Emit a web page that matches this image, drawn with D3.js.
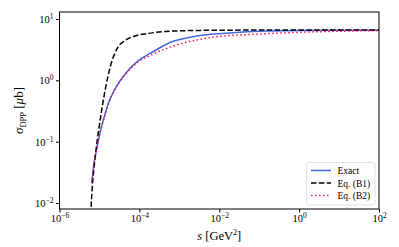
<!DOCTYPE html>
<html>
<head>
<meta charset="utf-8">
<script src="https://cdn.jsdelivr.net/npm/d3@7"></script>
<style>
body { margin: 0; background: #fff; }
text { font-family: "Liberation Serif", "DejaVu Serif", serif; fill: #000; }
</style>
</head>
<body>
<script>
var width = 399,
    height = 247;

// s [GeV^2] and sigma [mub]
var exactS   = [6.40e-6, 7.22e-6, 8.59e-6, 1.03e-5, 1.30e-5, 1.69e-5, 2.45e-5, 4.37e-5, 9.23e-5, 1.85e-4, 5.84e-4, 3.30e-3, 2.21e-2, 0.105, 1.05, 100];
var exactSig = [0.0211, 0.0415, 0.0787, 0.138, 0.243, 0.427, 0.721, 1.26, 2.07, 2.74, 4.14, 5.38, 5.98, 6.30, 6.47, 6.56];

var b1S   = [6.08e-6, 6.22e-6, 6.59e-6, 7.22e-6, 8.20e-6, 9.58e-6, 1.14e-5, 1.42e-5, 1.89e-5, 2.83e-5, 4.37e-5, 7.76e-5, 1.64e-4, 4.38e-4, 3.30e-3, 5.89e-2, 100];
var b1Sig = [0.00635, 0.00925, 0.0175, 0.0344, 0.0730, 0.155, 0.327, 0.748, 1.71, 3.37, 4.46, 5.28, 5.80, 6.25, 6.52, 6.59, 6.62];

var b2S   = [6.40e-6, 7.22e-6, 8.59e-6, 1.03e-5, 1.30e-5, 1.69e-5, 2.45e-5, 4.37e-5, 9.23e-5, 1.85e-4, 8.59e-4, 8.63e-3, 0.105, 1.05, 10.5, 100];
var b2Sig = [0.0211, 0.0415, 0.0787, 0.138, 0.243, 0.427, 0.721, 1.23, 1.99, 2.54, 3.77, 5.14, 5.69, 6.07, 6.32, 6.47];

var xTicks = [1e-6, 1e-4, 1e-2, 1e0, 1e2];
var xTickExp = ["\u22126", "\u22124", "\u22122", "0", "2"];
var yTicks = [10, 1, 0.1, 0.01];
var yTickExp = ["1", "0", "\u22121", "\u22122"];

var legendLabels = ["Exact", "Eq. (B1)", "Eq. (B2)"];

var margin = {left: 59.5, right: 20, top: 12, bottom: 38};

var x = d3.scaleLog().domain([1e-6, 1e2]).range([margin.left, width - margin.right]);
var y = d3.scaleLog().domain([Math.pow(10, -2.098), Math.pow(10, 1.114)]).range([height - margin.bottom, margin.top]);

var svg = d3.select("body").append("svg")
    .attr("width", width)
    .attr("height", height);

svg.append("clipPath").attr("id", "clip")
  .append("rect")
    .attr("x", margin.left).attr("y", margin.top)
    .attr("width", width - margin.left - margin.right)
    .attr("height", height - margin.top - margin.bottom);

var line = d3.line()
    .x(function(d) { return x(d[0]); })
    .y(function(d) { return y(d[1]); })
    .curve(d3.curveMonotoneX);

var series = [
  {s: exactS, v: exactSig, color: "#4169e1", dash: null},
  {s: b1S, v: b1Sig, color: "#000", dash: "5.5,2.4"},
  {s: b2S, v: b2Sig, color: "#e8174f", dash: "1.5,2.5"}
];

var plot = svg.append("g").attr("clip-path", "url(#clip)");
series.forEach(function(sr) {
  var pts = sr.s.map(function(s, i) { return [s, sr.v[i]]; });
  plot.append("path")
    .attr("d", line(pts))
    .attr("fill", "none")
    .attr("stroke", sr.color)
    .attr("stroke-width", 1.5)
    .attr("stroke-dasharray", sr.dash);
});

// frame
svg.append("rect")
    .attr("x", margin.left).attr("y", margin.top)
    .attr("width", width - margin.left - margin.right)
    .attr("height", height - margin.top - margin.bottom)
    .attr("fill", "none").attr("stroke", "#000").attr("stroke-width", 1);

// x axis
var xAxis = svg.append("g").attr("transform", "translate(0," + (height - margin.bottom) + ")")
    .call(d3.axisBottom(x).tickValues(xTicks).tickSize(3.5).tickFormat(""));
xAxis.select(".domain").remove();
var xl = xAxis.selectAll(".tick").append("text")
    .attr("y", 13).attr("text-anchor", "middle").style("font-size", "10.5px");
xl.append("tspan").text("10");
xl.append("tspan").attr("dy", "-4").style("font-size", "7.5px").text(function(d, i) { return xTickExp[i]; });

// y axis
var yAxis = svg.append("g").attr("transform", "translate(" + margin.left + ",0)")
    .call(d3.axisLeft(y).tickValues(yTicks).tickSize(3.5).tickFormat(""));
yAxis.select(".domain").remove();
var yl = yAxis.selectAll(".tick").append("text")
    .attr("x", -6).attr("y", 3.5).attr("text-anchor", "end").style("font-size", "10.5px");
yl.append("tspan").text("10");
yl.append("tspan").attr("dy", "-4").style("font-size", "7.5px").text(function(d, i) { return yTickExp[i]; });

// axis titles
var xt = svg.append("text")
    .attr("x", (margin.left + width - margin.right) / 2).attr("y", 240)
    .attr("text-anchor", "middle").style("font-size", "12.5px");
xt.append("tspan").style("font-style", "italic").text("s");
xt.append("tspan").text(" [GeV");
xt.append("tspan").attr("dy", "-5").style("font-size", "8px").text("2");
xt.append("tspan").attr("dy", "5").text("]");

var yt = svg.append("text")
    .attr("transform", "translate(23," + ((margin.top + height - margin.bottom) / 2) + ") rotate(-90)")
    .attr("text-anchor", "middle").style("font-size", "13px");
yt.append("tspan").style("font-style", "italic").text("\u03c3");
yt.append("tspan").attr("dy", "3").style("font-size", "8.5px").text("DPP");
yt.append("tspan").attr("dy", "-3").text(" [");
yt.append("tspan").style("font-style", "italic").text("\u03bc");
yt.append("tspan").text("b]");

// legend
var lg = svg.append("g").attr("transform", "translate(306.5,162.5)");
lg.append("rect")
    .attr("width", 68.5).attr("height", 42.5).attr("rx", 2.5)
    .attr("fill", "#fff").attr("fill-opacity", 0.8)
    .attr("stroke", "#d9d9d9").attr("stroke-width", 0.8);
var items = lg.selectAll(".item").data(series).enter().append("g")
    .attr("transform", function(d, i) { return "translate(0," + (8 + i * 12.5) + ")"; });
items.append("line")
    .attr("x1", 4.5).attr("x2", 24.5)
    .attr("stroke", function(d) { return d.color; })
    .attr("stroke-width", 1.5)
    .attr("stroke-dasharray", function(d) { return d.dash; });
items.append("text")
    .attr("x", 31).attr("y", 3.5).style("font-size", "9.5px")
    .text(function(d, i) { return legendLabels[i]; });
</script>
</body>
</html>
